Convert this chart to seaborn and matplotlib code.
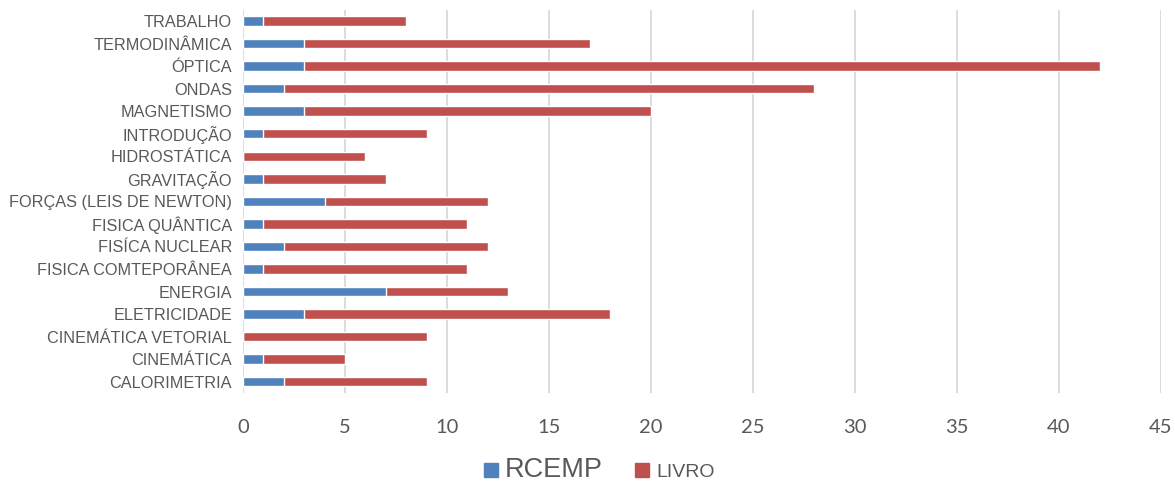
import pandas as pd
import matplotlib.pyplot as plt
import seaborn as sns
from matplotlib.patches import Patch

temas = ['TRABALHO', 'TERMODINÂMICA', 'ÓPTICA', 'ONDAS', 'MAGNETISMO',
         'INTRODUÇÃO', 'HIDROSTÁTICA', 'GRAVITAÇÃO', 'FORÇAS (LEIS DE NEWTON)',
         'FISICA QUÂNTICA', 'FISÍCA NUCLEAR', 'FISICA COMTEPORÂNEA', 'ENERGIA',
         'ELETRICIDADE', 'CINEMÁTICA VETORIAL', 'CINEMÁTICA', 'CALORIMETRIA']
rcemp = [1, 3, 3, 2, 3, 1, 0, 1, 4, 1, 2, 1, 7, 3, 0, 1, 2]
livro = [7, 14, 39, 26, 17, 8, 6, 6, 8, 10, 10, 10, 6, 15, 9, 4, 7]

df = pd.DataFrame({'Tema': temas, 'RCEMP': rcemp, 'LIVRO': livro})
df['Total'] = df['RCEMP'] + df['LIVRO']

sns.set_style('white')
plt.rcParams['font.family'] = ['Liberation Sans', 'DejaVu Sans']

azul = '#4F81BD'
vermelho = '#C0504D'

fig = plt.figure(figsize=(11.75, 4.87), dpi=100)
ax = fig.add_axes([0.2068, 0.193, 0.7812, 0.787])

sns.barplot(data=df, y='Tema', x='Total', color=vermelho, width=0.42,
            orient='h', ax=ax, saturation=1)
sns.barplot(data=df, y='Tema', x='RCEMP', color=azul, width=0.42,
            orient='h', ax=ax, saturation=1)

ax.set_xlim(0, 45)
ax.set_xticks(range(0, 46, 5))
ax.set_xlabel('')
ax.set_ylabel('')
ax.grid(axis='x', color='#d9d9d9', linewidth=1.3)
ax.set_axisbelow(True)
for s in ax.spines.values():
    s.set_visible(False)
ax.tick_params(axis='x', length=0, pad=19, labelsize=14.5, labelcolor='#595959')
ax.tick_params(axis='y', length=0, pad=8, labelsize=11.7, labelcolor='#595959')
for lbl in ax.get_xticklabels():
    lbl.set_family(['Lato', 'DejaVu Sans'])

handles = [Patch(color=azul), Patch(color=vermelho)]
leg = fig.legend(handles, ['RCEMP', 'LIVRO'], loc='lower center',
                 bbox_to_anchor=(0.51, -0.028), ncol=2, frameon=False,
                 prop={'size': 14}, handlelength=0.72, handleheight=0.72,
                 handletextpad=0.35, columnspacing=1.7)
leg.get_texts()[0].set_fontsize(19.5)
leg.get_texts()[1].set_fontsize(14)
for t in leg.get_texts():
    t.set_color('#595959')

fig.savefig('out.png', dpi=100)
